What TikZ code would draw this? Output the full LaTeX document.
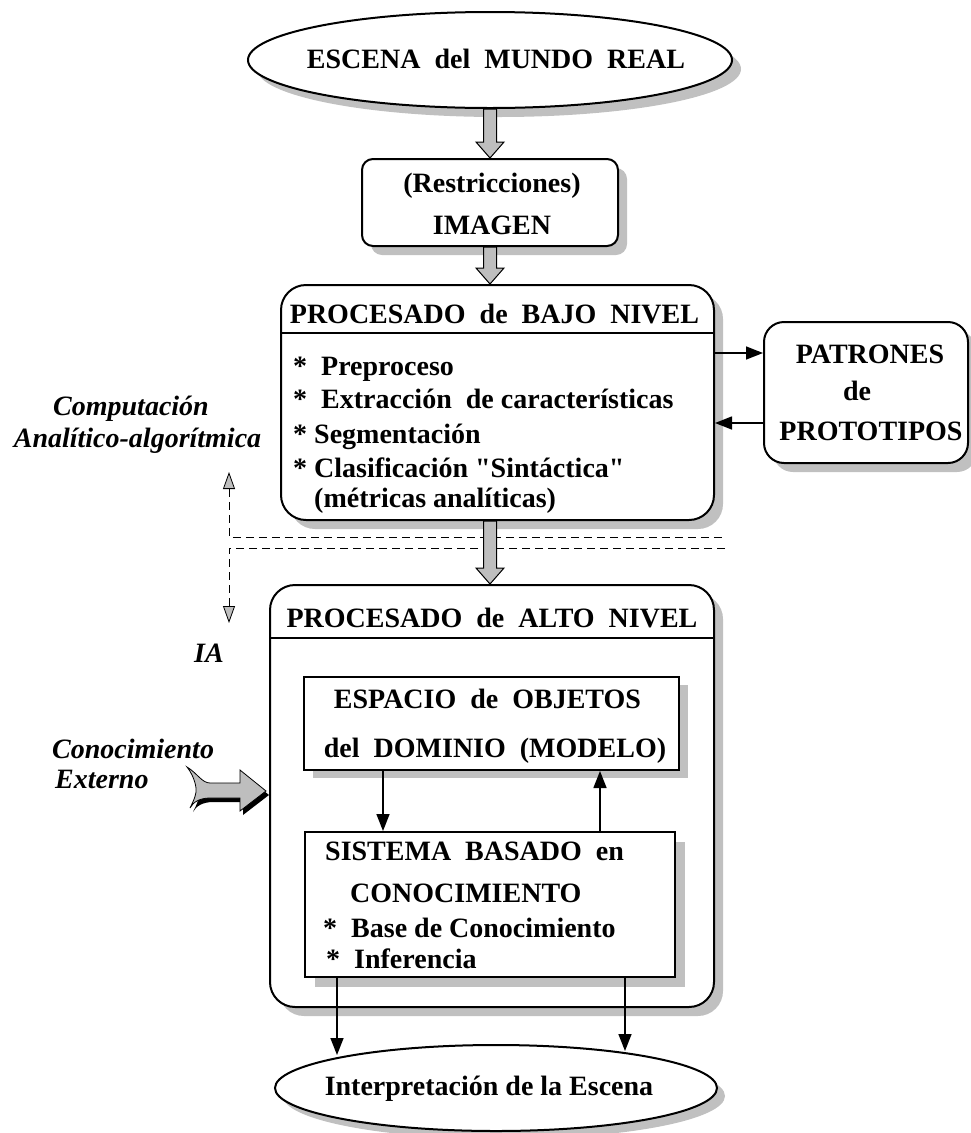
\documentclass[tikz,border=0pt]{standalone}
\usepackage{fontspec}
\setmainfont{Liberation Serif}[Ligatures=TeXOff]
\usetikzlibrary{shapes.geometric,shadows,arrows.meta,calc}
\definecolor{shadowgray}{RGB}{192,192,192}
\definecolor{arrowgray}{RGB}{190,190,190}
\tikzset{gtip/.tip={Triangle[length=17pt,width=12pt,fill=arrowgray,color=black,line width=0.8pt]}}
\newcommand{\blockarrow}[2]{%
  \fill[black,xshift=3pt,yshift=-1pt] let \p1=#1, \p2=#2 in
    (\x1-6.5pt,\y1) -- (\x1+6.5pt,\y1) -- (\x1+6.5pt,\y2+16pt) -- (\x1+14pt,\y2+16pt)
    -- (\x1,\y2) -- (\x1-14pt,\y2+16pt) -- (\x1-6.5pt,\y2+16pt) -- cycle;
  \filldraw[fill=arrowgray,draw=black,line width=1pt] let \p1=#1, \p2=#2 in
    (\x1-6.5pt,\y1) -- (\x1+6.5pt,\y1) -- (\x1+6.5pt,\y2+16pt) -- (\x1+14pt,\y2+16pt)
    -- (\x1,\y2) -- (\x1-14pt,\y2+16pt) -- (\x1-6.5pt,\y2+16pt) -- cycle;
}
\newcommand{\fatarrowpath}{(187,767) .. controls (197,773) and (202,783) .. (210,783) -- (240,783) -- (240,770) -- (266,791) -- (240,811) -- (240,798) -- (210,798) .. controls (200,798) and (193,802) .. (190,808) .. controls (194,800) and (197,793) .. (196,788) .. controls (195,780) and (191,772) .. (187,767) -- cycle}
\begin{document}
\begin{tikzpicture}[x=1pt,y=-1pt,
  every node/.style={font=\fontsize{28}{33}\selectfont\bfseries, inner sep=0pt},
  lbl/.style={font=\fontsize{28}{33}\selectfont\bfseries\itshape},
  shad/.style={drop shadow={shadow xshift=9pt,shadow yshift=-9pt,fill=shadowgray,opacity=1}},
  boxline/.style={draw=black,line width=2pt,fill=white},
  conn/.style={draw=black,line width=1.5pt,-{Triangle[length=17pt,width=13pt]}},
  dashline/.style={draw=black,line width=0.8pt,dash pattern=on 8pt off 5pt}
]
\useasboundingbox (0,0) rectangle (970,1133);

% dashed separation lines
\coordinate (dv1) at (229,472);
\coordinate (dj1) at (229,537);
\coordinate (dend1) at (725,537);
\coordinate (dj2) at (229,548);
\coordinate (dend2) at (725,548);
\coordinate (dv2) at (229,623);
\draw[dashline,{gtip}-] (dv1) -- (dj1) -- (dend1);
\draw[dashline,-{gtip}] (dend2) -- (dj2) -- (dv2);

% top ellipse
\node[ellipse,boxline,shad,minimum width=484pt,minimum height=96pt] (escena) at (490,60) {};
\node[anchor=base] (escenaT) at (496,68) {ESCENA\ \ del\ \ MUNDO\ \ REAL};

% imagen
\node[rectangle,rounded corners=11pt,boxline,shad,minimum width=256pt,minimum height=87pt] (imagen) at (490,202.5) {};
\node[anchor=base] (imT1) at (492,192) {(Restricciones)};
\node[anchor=base] (imT2) at (492,234) {IMAGEN};

% bajo nivel
\node[rectangle,rounded corners=25pt,boxline,shad,minimum width=433pt,minimum height=235pt] (bajo) at (497.5,402.5) {};
\coordinate (h1) at (0,333);
\draw[line width=1.5pt] (bajo.west |- h1) -- (bajo.east |- h1);
\node[anchor=base] (bajoT) at (494.5,323) {PROCESADO\ \ de\ \ BAJO\ \ NIVEL};
\node[anchor=base west] (b1) at (293,375) {*\ \ Preproceso};
\node[anchor=base west] (b2) at (293,408) {*\ \ Extracción\ \ de características};
\node[anchor=base west] (b3) at (293,443) {* Segmentación};
\node[anchor=base west] (b4) at (293,477) {* Clasificación "Sintáctica"};
\node[anchor=base west] (b5) at (293,507) {\phantom{*} (métricas analíticas)};

% patrones
\node[rectangle,rounded corners=20pt,boxline,shad,minimum width=204pt,minimum height=141pt] (patrones) at (866,392.5) {};
\node[anchor=base] (p1) at (870,363) {PATRONES};
\node[anchor=base] (p2) at (857,400) {de};
\node[anchor=base] (p3) at (871,440) {PROTOTIPOS};

% alto nivel
\node[rectangle,rounded corners=25pt,boxline,shad,minimum width=444pt,minimum height=422pt] (alto) at (492,796) {};
\coordinate (h2) at (0,638);
\draw[line width=1.5pt] (alto.west |- h2) -- (alto.east |- h2);
\node[anchor=base] (altoT) at (492,627) {PROCESADO\ \ de\ \ ALTO\ \ NIVEL};

% espacio
\node[rectangle,boxline,drop shadow={shadow xshift=9pt,shadow yshift=-8pt,fill=shadowgray,opacity=1},minimum width=375pt,minimum height=93pt] (espacio) at (491.5,723.5) {};
\node[anchor=base] (e1) at (487.5,708) {ESPACIO\ \ de\ \ OBJETOS};
\node[anchor=base] (e2) at (495,757) {del\ \ DOMINIO\ \ (MODELO)};

% sistema
\node[rectangle,boxline,drop shadow={shadow xshift=10pt,shadow yshift=-10pt,fill=shadowgray,opacity=1},minimum width=370pt,minimum height=145pt] (sistema) at (490,904.5) {};
\node[anchor=base west] (s1) at (325,860) {SISTEMA\ \ BASADO\ \ en};
\node[anchor=base west] (s2) at (350,902) {CONOCIMIENTO};
\node[anchor=base west] (s3) at (323,937) {*\ \ Base de Conocimiento};
\node[anchor=base west] (s4) at (326,968) {*\ \ Inferencia};

% interpretacion
\node[ellipse,boxline,drop shadow={shadow xshift=8pt,shadow yshift=-8pt,fill=shadowgray,opacity=1},minimum width=442pt,minimum height=86pt] (interp) at (496,1088) {};
\node[anchor=base] (interpT) at (489,1095) {Interpretación de la Escena};

% side labels
\node[lbl,anchor=base] (c1) at (131,415) {Computación};
\node[lbl,anchor=base] (c2) at (137.5,447) {Analítico-algorítmica};
\node[lbl,anchor=base] (ia) at (209,662) {IA};
\node[lbl,anchor=base west] (k1) at (52,758) {Conocimiento};
\node[lbl,anchor=base west] (k2) at (55,788) {Externo};

% fat external-knowledge arrow
\fill[black,xshift=3pt,yshift=-4pt] \fatarrowpath;
\filldraw[fill=arrowgray,draw=black,line width=0.8pt] \fatarrowpath;

% block arrows
\blockarrow{(escena.south)}{(imagen.north -| escena.south)}
\blockarrow{(imagen.south)}{(bajo.north -| imagen.south)}
\blockarrow{(bajo.south -| imagen.south)}{(alto.north -| imagen.south)}

% side arrows
\coordinate (r1) at (0,353);
\coordinate (r2) at (0,423);
\draw[conn] (r1 -| bajo.east) -- (r1 -| patrones.west);
\draw[conn] (r2 -| patrones.west) -- (r2 -| bajo.east);

% inner arrows
\coordinate (xa) at (383,0);
\coordinate (xb) at (600,0);
\draw[conn] (xa |- espacio.south) -- (xa |- sistema.north);
\draw[conn] (xb |- sistema.north) -- (xb |- espacio.south);

% output arrows
\coordinate (xc) at (337,0);
\coordinate (xd) at (625,0);
\coordinate (o1) at (337,1055);
\coordinate (o2) at (625,1051);
\draw[conn] (xc |- sistema.south) -- (o1);
\draw[conn] (xd |- sistema.south) -- (o2);
\end{tikzpicture}
\end{document}
